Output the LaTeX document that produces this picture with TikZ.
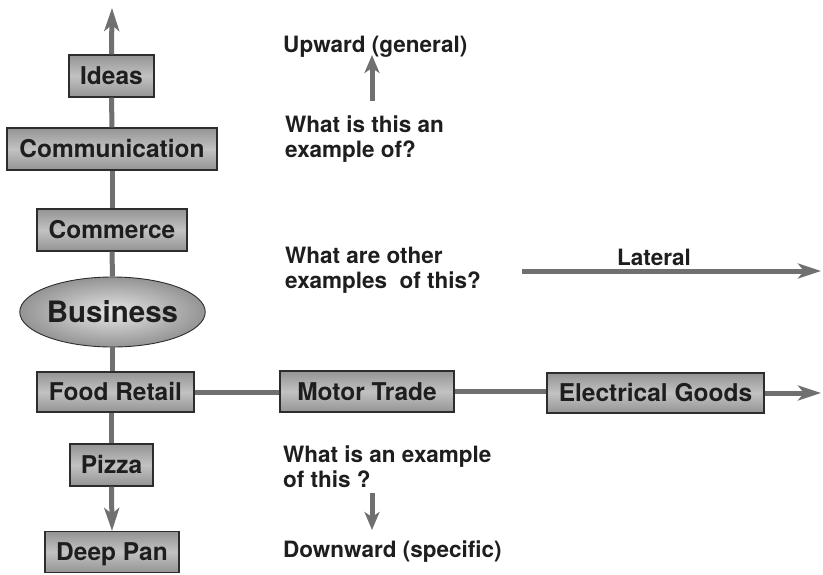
\documentclass[tikz,border=0pt]{standalone}
\usepackage{fontspec}
\setmainfont{TeX Gyre Heros}
\usetikzlibrary{arrows.meta,shapes.geometric}
\definecolor{shaft}{RGB}{112,112,112}
\definecolor{ink}{RGB}{30,30,30}
\definecolor{edge}{RGB}{45,45,45}
\begin{document}
\begin{tikzpicture}[x=1pt,y=-1pt,
  box/.style={rectangle, draw=edge, line width=1.1pt, inner sep=0pt,
    top color=black!42, bottom color=black!42, middle color=black!24,
    text=ink, font=\fontsize{24.5}{29}\bfseries\selectfont,
    text height=17.5pt, text depth=0pt},
  bigoval/.style={ellipse, draw=edge, line width=0.9pt, inner sep=0pt,
    shading=radial, inner color=black!10, outer color=black!42,
    text=ink, font=\fontsize{29.5}{34}\bfseries\selectfont,
    text height=21pt, text depth=0pt},
  note/.style={inner sep=0pt, anchor=base west, text=ink,
    font=\fontsize{22.5}{26}\bfseries\selectfont},
  link/.style={draw=shaft, line width=5pt},
  bigarrow/.style={link, -{Stealth[length=23pt,width=15pt,inset=6pt]}},
  smallarrow/.style={link, -{Stealth[length=18pt,width=15pt,inset=5pt]}}
]
\useasboundingbox (0,0) rectangle (823,574);

% hierarchy column
\node[box, minimum width=85pt,  minimum height=42pt] (ideas) at (111.5,76) {Ideas};
\node[box, minimum width=210pt, minimum height=42pt] (comm)  at (112,149) {Communication};
\node[box, minimum width=150pt, minimum height=42pt] (commerce) at (112,230) {Commerce};
\node[bigoval, minimum width=181pt, minimum height=70pt] (biz) at (112.5,312) {Business};
\node[box, minimum width=157pt, minimum height=40pt] (food)  at (115.5,392) {Food Retail};
\node[box, minimum width=83pt,  minimum height=42pt] (pizza) at (111.5,465) {Pizza};
\node[box, minimum width=134pt, minimum height=41pt] (deep)  at (112,552) {Deep Pan};

% lateral row
\node[box, minimum width=174pt, minimum height=41pt] (motor) at (367,391.5) {Motor Trade};
\node[box, minimum width=217pt, minimum height=40pt] (elec)  at (655.5,393) {Electrical Goods};

% free ends
\coordinate (topend) at (112,8);
\coordinate (rowend) at (821,393);
\coordinate (latstart) at (522,271);
\coordinate (latend) at (821,271);
\coordinate (upbot) at (372,101);
\coordinate (uptop) at (372,55);
\coordinate (dntop) at (372,493);
\coordinate (dnbot) at (372,530);

% vertical connectors
\draw[bigarrow] (ideas.north) -- (topend);
\draw[link] (ideas.south) -- (comm.north);
\draw[link] (comm.south) -- (commerce.north);
\draw[link] (commerce.south) -- (biz.north);
\draw[link] (biz.south) -- (biz.south |- food.north);
\draw[link] (pizza.north |- food.south) -- (pizza.north);
\draw[bigarrow] (pizza.south) -- (deep.north);

% horizontal connectors
\draw[link] (food.east) -- (food.east -| motor.west);
\draw[link] (motor.east) -- (motor.east -| elec.west);
\draw[bigarrow] (elec.east) -- (rowend);

% direction arrows
\draw[bigarrow] (latstart) -- (latend);
\draw[smallarrow] (upbot) -- (uptop);
\draw[smallarrow] (dntop) -- (dnbot);

% notes
\node[note] (upw) at (283,52) {Upward (general)};
\node[note] (q1a) at (285,132) {What is this an};
\node[note] (q1b) at (285,157) {example of?};
\node[note] (q2a) at (285,263) {What are other};
\node[note] (q2b) at (285,288) {examples\ \ of this?};
\node[note, anchor=base] (lat) at (654,265) {Lateral};
\node[note] (q3a) at (283,462) {What is an example};
\node[note] (q3b) at (283,487) {of this ?};
\node[note] (dnw) at (283,557) {Downward (specific)};
\end{tikzpicture}
\end{document}
